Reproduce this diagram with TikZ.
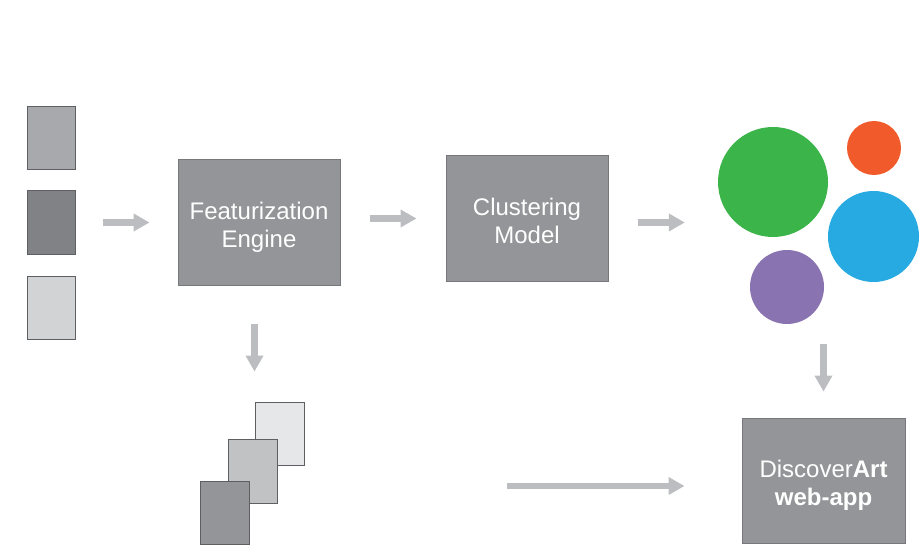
\documentclass[tikz,border=0pt]{standalone}
\usepackage{fontspec}
\setmainfont{Liberation Sans}
\usetikzlibrary{arrows.meta,calc}
\definecolor{boxgray}{HTML}{939598}
\definecolor{boxline}{HTML}{77787B}
\definecolor{docline}{HTML}{5E5F62}
\definecolor{arrgray}{HTML}{BCBDC0}
\definecolor{docA}{HTML}{A7A9AC}
\definecolor{docB}{HTML}{808285}
\definecolor{docC}{HTML}{D1D3D4}
\definecolor{docD}{HTML}{E6E7E8}
\definecolor{docE}{HTML}{C1C2C4}
\definecolor{clgreen}{HTML}{3BB44A}
\definecolor{clorange}{HTML}{F15A2B}
\definecolor{clblue}{HTML}{27AAE1}
\definecolor{clpurple}{HTML}{8973B1}
\begin{document}
\begin{tikzpicture}[x=1pt, y=-1pt, every node/.style={font=\fontsize{24}{28}\selectfont, text=white}, box/.style={draw=boxline, fill=boxgray, align=center, inner sep=0pt, text height=55pt, text depth=5pt, minimum width=162pt, minimum height=126pt, line width=1pt}, doc/.style={draw=docline, line width=1pt, inner sep=0pt, minimum width=48pt, minimum height=63pt}, blob/.style={circle, inner sep=0pt}, arr/.style={draw=arrgray, line width=6.5pt, -{Triangle[length=16pt,width=17pt]}}]
\useasboundingbox (0,0) rectangle (920,545);
% input documents
\node[doc,fill=docA] (in1) at (51,138.5) {};
\node[doc,fill=docB] (in2) at (51,222.5) {};
\node[doc,fill=docC] (in3) at (51,307.5) {};
% processing steps
\node[box] (feat) at (259,222.5) {Featurization\\Engine};
\node[box,minimum height=125pt] (clus) at (527,218.5) {Clustering\\Model};
\node[box,minimum width=163pt,minimum height=125pt] (app) at (823.5,480.5) {Discover\textbf{Art}\\\textbf{web-app}};
% clusters
\node[blob,fill=clgreen,minimum size=110pt] (green) at (773,182) {};
\node[blob,fill=clorange,minimum size=54pt] (orange) at (874,148) {};
\node[blob,fill=clblue,minimum size=91pt] (blue) at (873.5,236.5) {};
\node[blob,fill=clpurple,minimum size=74pt] (purple) at (787,287) {};
% feature vectors
\node[doc,fill=docD,minimum width=49pt] (back) at (279.5,433.5) {};
\node[doc,fill=docE,minimum width=49pt,minimum height=64pt] (mid) at (252.5,471) {};
\node[doc,fill=boxgray,minimum width=49pt] (front) at (224.5,512.5) {};
\coordinate (lnk) at (507,486);
\draw[arr, shorten <=27pt, shorten >=28pt] (in2) -- (feat);
\draw[arr, shorten <=29pt, shorten >=29pt] (feat.east |- clus) -- (clus.west);
\draw[arr, shorten <=29pt, shorten >=33pt] (clus.east |- feat) -- (green.west |- feat);
\draw[arr, shorten <=38pt, shorten >=30pt] (feat.south -| back.west) -- (back.north west);
\draw[arr, shorten <=20pt, shorten >=26pt] (app.north |- purple.south) -- (app.north);
\draw[arr, shorten >=57pt] (lnk) -- (lnk -| app.west);
\end{tikzpicture}
\end{document}
